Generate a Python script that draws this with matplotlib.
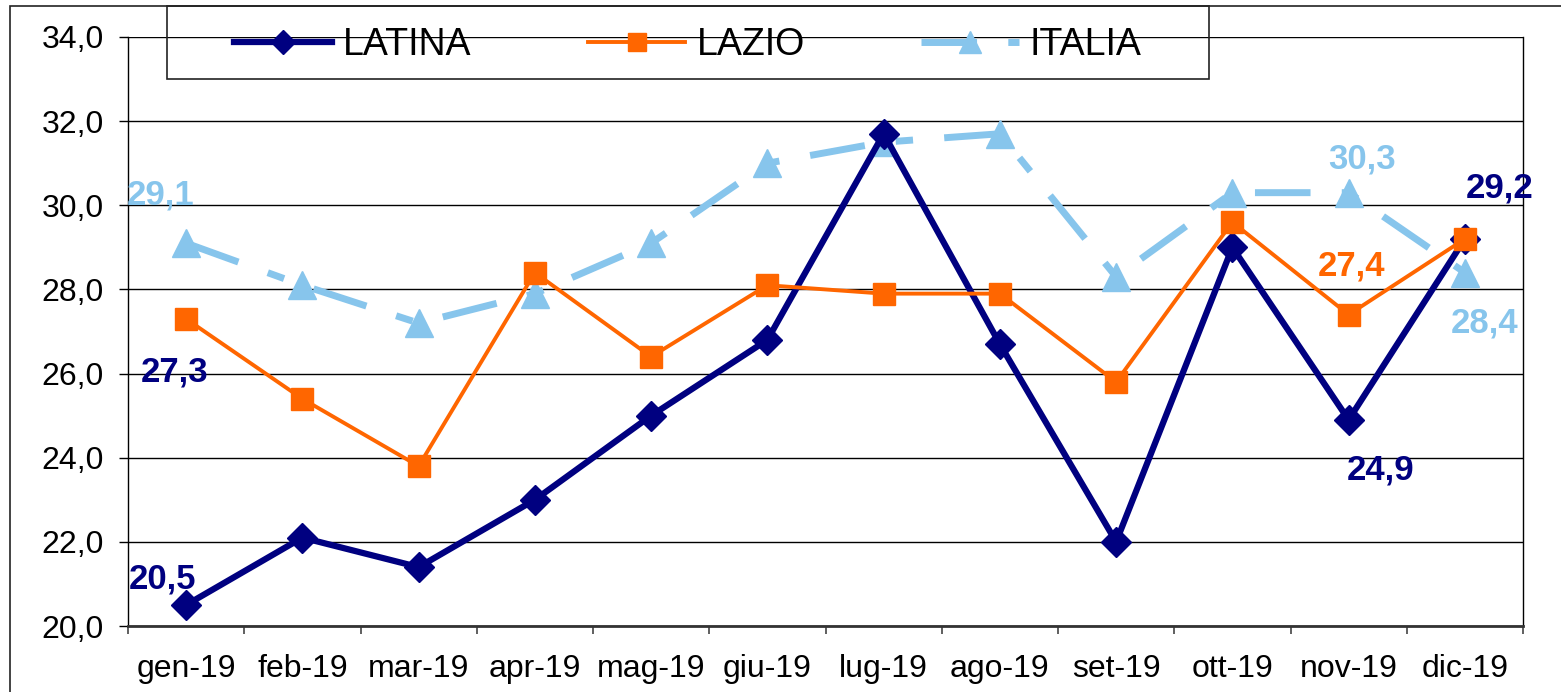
import matplotlib
matplotlib.use("Agg")
import numpy as np
from matplotlib import pyplot as plt
from matplotlib.patches import Rectangle
from matplotlib.ticker import FuncFormatter

plt.rcParams['font.family'] = ['Liberation Sans', 'DejaVu Sans']

# data
mesi = ["gen-19", "feb-19", "mar-19", "apr-19", "mag-19", "giu-19",
        "lug-19", "ago-19", "set-19", "ott-19", "nov-19", "dic-19"]
latina = [20.5, 22.1, 21.4, 23.0, 25.0, 26.8, 31.7, 26.7, 22.0, 29.0, 24.9, 29.2]
lazio = [27.3, 25.4, 23.8, 28.4, 26.4, 28.1, 27.9, 27.9, 25.8, 29.6, 27.4, 29.2]
italia = [29.1, 28.1, 27.2, 27.9, 29.1, 31.0, 31.5, 31.7, 28.3, 30.3, 30.3, 28.4]

# (serie, indice mese, testo)
etichette = [("latina", 0, "20,5"), ("lazio", 0, "27,3"), ("italia", 0, "29,1"),
             ("italia", 10, "30,3"), ("lazio", 10, "27,4"), ("latina", 10, "24,9"),
             ("latina", 11, "29,2"), ("italia", 11, "28,4")]

c_latina = "#000080"
c_lazio = "#FF6600"
c_italia = "#87C5EC"

W, H = 1561, 692
fig = plt.figure(figsize=(W / 100, H / 100), dpi=100)
ax = fig.add_axes([128 / W, 1 - 626 / H, (1523 - 128) / W, (626 - 37) / H])

x = np.arange(len(mesi))

l1, = ax.plot(x, latina, color=c_latina, lw=4.5, marker='D', ms=15,
              mec=c_latina, zorder=5, label="LATINA")
l2, = ax.plot(x, lazio, color=c_lazio, lw=2.8, marker='s', ms=16,
              mec=c_lazio, zorder=6, label="LAZIO")
l3, = ax.plot(x, italia, color=c_italia, lw=5, marker='^', ms=20,
              mec=c_italia, zorder=4, label="ITALIA", dashes=(8, 4.5, 2.5, 4.5))

serie = {"latina": (latina, c_latina), "lazio": (lazio, c_latina), "italia": (italia, c_italia)}
offs = {("latina", 0): (-17, 19), ("lazio", 0): (-8, -38), ("italia", 0): (-18, 35),
        ("italia", 10): (10, 24), ("lazio", 10): (2, 35), ("latina", 10): (23, -36),
        ("latina", 11): (25, 37), ("italia", 11): (14, -36)}
for s, i, t in etichette:
    vals, col = serie[s]
    if s == "lazio" and i == 10:
        col = c_lazio
    ax.annotate(t, (x[i], vals[i]), xytext=offs[(s, i)], textcoords='offset points',
                ha='center', va='center', fontsize=25, fontweight='bold', color=col,
                zorder=10)

ax.set_xlim(-0.5, len(mesi) - 0.5)
ax.set_ylim(20, 34)
ax.set_yticks(np.arange(20, 34.1, 2))
ax.yaxis.set_major_formatter(FuncFormatter(lambda v, p: f"{v:.1f}".replace(".", ",")))
ax.set_xticks(x)
ax.set_xticklabels(mesi)
ax.set_xticks(np.arange(-0.5, len(mesi), 1), minor=True)
ax.tick_params(axis='x', which='major', length=0, pad=20, labelsize=23)
ax.tick_params(axis='x', which='minor', length=6, width=1.2, color='#444444')
ax.tick_params(axis='y', length=6.5, width=1, pad=11, labelsize=23)

ax.grid(axis='y', color='black', lw=1)
ax.set_axisbelow(True)
ax.spines['top'].set_visible(False)
ax.spines['left'].set_linewidth(1)
ax.spines['right'].set_linewidth(1)
ax.spines['bottom'].set_linewidth(2)
ax.spines['bottom'].set_color('#333333')

# legend with its own box
fig.patches.append(Rectangle((167 / W, 1 - 79 / H), (1209 - 167) / W, 73 / H,
                             transform=fig.transFigure, fill=False, ec='#222222', lw=1.2))
fig.legend(handles=[l1, l2, l3], loc='center', ncol=3, frameon=False,
           bbox_to_anchor=((167 + 1209) / 2 / W, 1 - 45 / H),
           fontsize=27, handlelength=2.6, handletextpad=0.3, columnspacing=3.1,
           numpoints=1, markerscale=0.8)

# outer border
fig.patches.append(Rectangle((10 / W, -0.5), 1.5, 1.5 - 6 / H, transform=fig.transFigure,
                             fill=False, ec='#222222', lw=1.2))

fig.savefig("out.png", dpi=100)
